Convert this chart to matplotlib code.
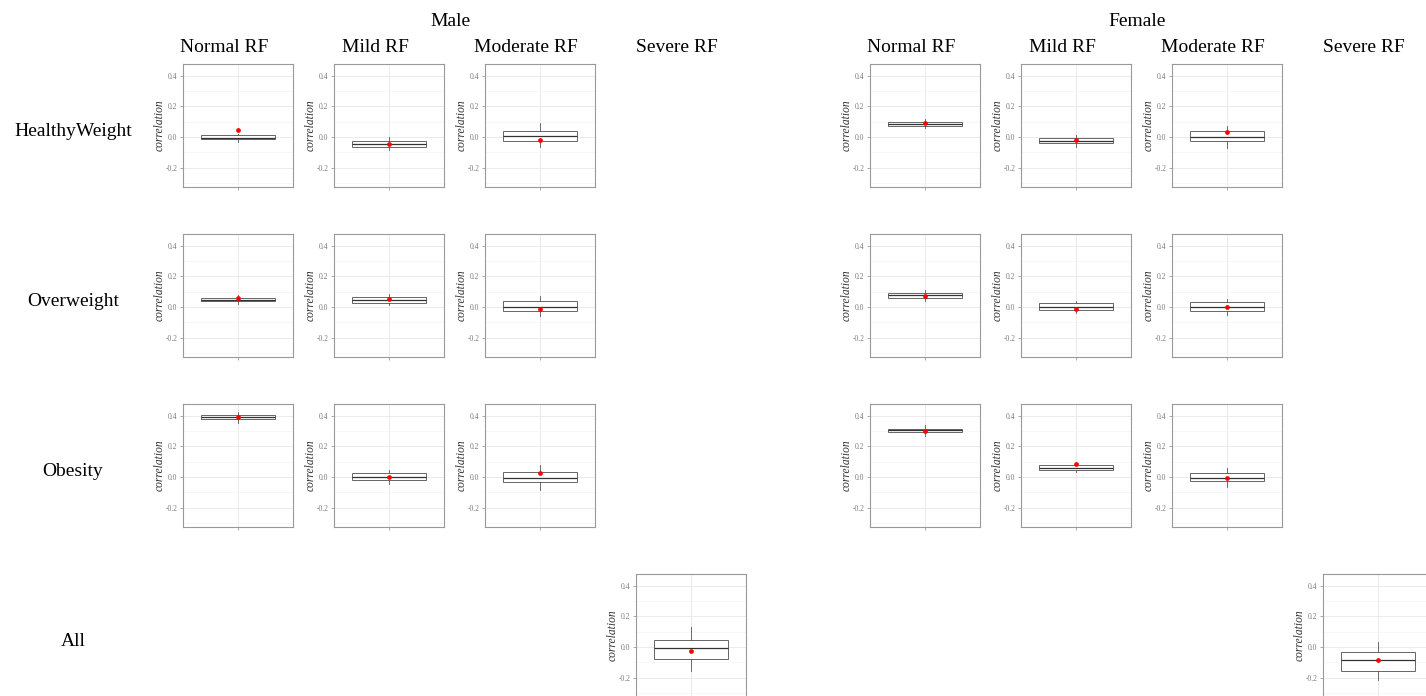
import numpy as np
import matplotlib.pyplot as plt

plt.rcParams['font.family'] = ['Liberation Serif', 'DejaVu Serif']

#%% data
sexes = ["Male", "Female"]
rows = ["HealthyWeight", "Overweight", "Obesity", "All"]
cols = ["Normal RF", "Mild RF", "Moderate RF", "Severe RF"]

# panels present (row, col), same for both sexes
cells = [(0, 0), (0, 1), (0, 2),
         (1, 0), (1, 1), (1, 2),
         (2, 0), (2, 1), (2, 2),
         (3, 3)]

male_q1 = [-0.015, -0.068, -0.024, 0.038, 0.029, -0.027, 0.378, -0.020, -0.035, -0.080]
male_med = [-0.004, -0.046, 0.004, 0.049, 0.046, 0.000, 0.392, 0.000, -0.007, -0.007]
male_q3 = [0.011, -0.024, 0.042, 0.060, 0.066, 0.040, 0.407, 0.029, 0.033, 0.046]
male_lo = [-0.030, -0.085, -0.063, 0.022, 0.015, -0.060, 0.356, -0.046, -0.082, -0.153]
male_hi = [0.020, 0.000, 0.094, 0.080, 0.086, 0.075, 0.427, 0.049, 0.082, 0.128]
male_mean = [0.044, -0.044, -0.020, 0.057, 0.053, -0.015, 0.392, 0.002, 0.024, -0.027]

female_q1 = [0.071, -0.040, -0.027, 0.060, -0.020, -0.024, 0.292, 0.046, -0.024, -0.153]
female_med = [0.086, -0.024, 0.002, 0.082, 0.000, 0.000, 0.305, 0.062, -0.009, -0.086]
female_q3 = [0.097, -0.007, 0.040, 0.095, 0.025, 0.033, 0.316, 0.077, 0.029, -0.033]
female_lo = [0.058, -0.062, -0.069, 0.042, -0.040, -0.049, 0.270, 0.033, -0.062, -0.212]
female_hi = [0.120, 0.013, 0.069, 0.113, 0.038, 0.053, 0.340, 0.093, 0.058, 0.031]
female_mean = [0.095, -0.022, 0.035, 0.073, -0.015, 0.002, 0.300, 0.084, -0.007, -0.086]

yticks = [-0.2, 0.0, 0.2, 0.4]
ytick_labels = ["-0.2", "0.0", "0.2", "0.4"]
yminor = [-0.3, -0.1, 0.1, 0.3]

stats = {
    "Male": (male_q1, male_med, male_q3, male_lo, male_hi, male_mean),
    "Female": (female_q1, female_med, female_q3, female_lo, female_hi, female_mean),
}

#%% layout (pixels)
W, H = 1426, 696
group_left = [183, 870]
col_step = 151
row_top = [64, 234, 404, 574]
pw, ph = 110, 123

def px(l, t, w, h):
    return [l / W, 1 - (t + h) / H, w / W, h / H]

fig = plt.figure(figsize=(W / 100, H / 100), dpi=100)

for g, sex in enumerate(sexes):
    q1, med, q3, lo, hi, mean = stats[sex]
    x0 = group_left[g]
    # group title
    centers = [x0 + c * col_step + pw / 2 - 14 for c in range(4)]
    fig.text((centers[0] + centers[3]) / 2 / W, 1 - 21 / H, sex,
             ha="center", va="center", fontsize=14)
    for c, name in enumerate(cols):
        fig.text(centers[c] / W, 1 - 48 / H, name, ha="center", va="center", fontsize=14)

    for k, (r, c) in enumerate(cells):
        ax = fig.add_axes(px(x0 + c * col_step, row_top[r], pw, ph))
        bs = [dict(med=med[k], q1=q1[k], q3=q3[k], whislo=lo[k], whishi=hi[k],
                   mean=mean[k], fliers=[])]
        ax.bxp(bs, positions=[1], widths=0.8, showmeans=True, patch_artist=True,
               boxprops=dict(facecolor="white", edgecolor="#666666", linewidth=0.7),
               medianprops=dict(color="#333333", linewidth=0.9),
               whiskerprops=dict(color="#555555", linewidth=0.6),
               capprops=dict(linewidth=0),
               meanprops=dict(marker="o", markerfacecolor="red", markeredgecolor="red",
                              markersize=2.4))
        ax.set_xlim(0.4, 1.6)
        ax.set_ylim(-0.326, 0.477)
        ax.set_yticks(yticks)
        ax.set_yticklabels(ytick_labels)
        ax.set_yticks(yminor, minor=True)
        ax.set_xticks([1])
        ax.set_xticklabels([""])
        ax.tick_params(axis="both", which="major", length=2.5, width=0.5,
                       color="#888888", labelsize=5.5, labelcolor="#7a7a7a", pad=1.5)
        ax.tick_params(axis="y", which="minor", length=0)
        ax.grid(True, which="major", color="#ebebeb", linewidth=0.7)
        ax.grid(True, which="minor", axis="y", color="#f4f4f4", linewidth=0.5)
        ax.set_axisbelow(True)
        for s in ax.spines.values():
            s.set_color("#999999")
            s.set_linewidth(0.8)
        ax.set_ylabel("correlation", fontsize=8.3, style="italic", color="#333333",
                      labelpad=0)

# row labels
for r, name in enumerate(rows):
    fig.text(73 / W, 1 - (row_top[r] + 67) / H, name, ha="center", va="center", fontsize=14)

plt.savefig("out.png", dpi=100)
